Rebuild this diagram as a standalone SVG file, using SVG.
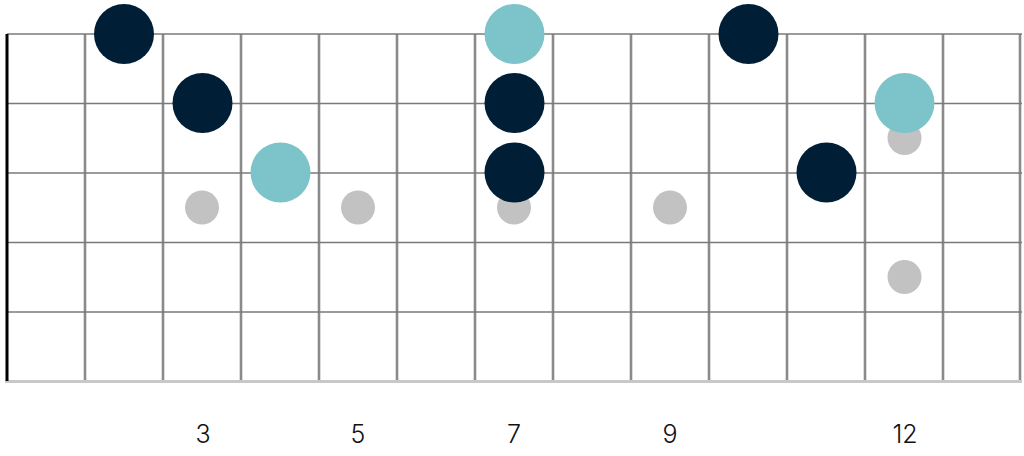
<svg xmlns="http://www.w3.org/2000/svg" width="1024" height="456" viewBox="0 0 1024 456">
<style>
.fret{stroke:#8a8a8a;stroke-width:2.6;fill:none}
.str{stroke:#7a7a7a;stroke-width:1.6;fill:none}
.nut{stroke:#000;stroke-width:3;fill:none}
.edge{stroke:#c8c8c8;stroke-width:3;fill:none}
.root{fill:#7cc4c9}
.note{fill:#001f36}
.inlay{fill:#c2c2c2}
.num{font-family:Inter,"Liberation Sans",sans-serif;font-weight:300;font-size:25px;fill:#111;text-anchor:middle}
</style>
<rect width="1024" height="456" fill="#fff"/>
<g id="fretboard">
<g id="frets">
<line class="fret" x1="85" y1="34" x2="85" y2="381"/>
<line class="fret" x1="163" y1="34" x2="163" y2="381"/>
<line class="fret" x1="241" y1="34" x2="241" y2="381"/>
<line class="fret" x1="319" y1="34" x2="319" y2="381"/>
<line class="fret" x1="397" y1="34" x2="397" y2="381"/>
<line class="fret" x1="475" y1="34" x2="475" y2="381"/>
<line class="fret" x1="553" y1="34" x2="553" y2="381"/>
<line class="fret" x1="631" y1="34" x2="631" y2="381"/>
<line class="fret" x1="709" y1="34" x2="709" y2="381"/>
<line class="fret" x1="787" y1="34" x2="787" y2="381"/>
<line class="fret" x1="865" y1="34" x2="865" y2="381"/>
<line class="fret" x1="943" y1="34" x2="943" y2="381"/>
<line class="fret" x1="1020" y1="34" x2="1020" y2="381"/>
</g>
<g id="strings">
<line class="str" x1="7" y1="34" x2="1022" y2="34"/>
<line class="str" x1="7" y1="103.5" x2="1022" y2="103.5"/>
<line class="str" x1="7" y1="173" x2="1022" y2="173"/>
<line class="str" x1="7" y1="242.5" x2="1022" y2="242.5"/>
<line class="str" x1="7" y1="312" x2="1022" y2="312"/>
<line class="edge" x1="5" y1="381.5" x2="1022" y2="381.5"/>
</g>
<line id="nut" class="nut" x1="7" y1="34" x2="7" y2="381"/>
</g>
<g id="inlays">
<circle id="inlay-3" class="inlay" cx="202" cy="207.5" r="17"/>
<circle id="inlay-5" class="inlay" cx="358" cy="207.5" r="17"/>
<circle id="inlay-7" class="inlay" cx="514" cy="207.5" r="17"/>
<circle id="inlay-9" class="inlay" cx="670" cy="207.5" r="17"/>
<circle id="inlay-12a" class="inlay" cx="904.5" cy="138" r="17"/>
<circle id="inlay-12b" class="inlay" cx="904.5" cy="277" r="17"/>
</g>
<g id="n1"><circle class="note" cx="124" cy="34" r="30"/></g>
<g id="n2"><circle class="note" cx="202.5" cy="103" r="30"/></g>
<g id="n3"><circle class="root" cx="280.5" cy="172.5" r="30"/></g>
<g id="n4"><circle class="root" cx="514.5" cy="34" r="30"/></g>
<g id="n5"><circle class="note" cx="514.5" cy="103" r="30"/></g>
<g id="n6"><circle class="note" cx="514.5" cy="172.5" r="30"/></g>
<g id="n7"><circle class="note" cx="748.5" cy="34" r="30"/></g>
<g id="n8"><circle class="root" cx="904.5" cy="103" r="30"/></g>
<g id="n9"><circle class="note" cx="826.5" cy="172.5" r="30"/></g>
<g id="labels">
<text class="num" x="203" y="443">3</text>
<text class="num" x="358" y="443">5</text>
<text class="num" x="514" y="443">7</text>
<text class="num" x="670" y="443">9</text>
<text class="num" x="905" y="443">12</text>
</g>
</svg>
